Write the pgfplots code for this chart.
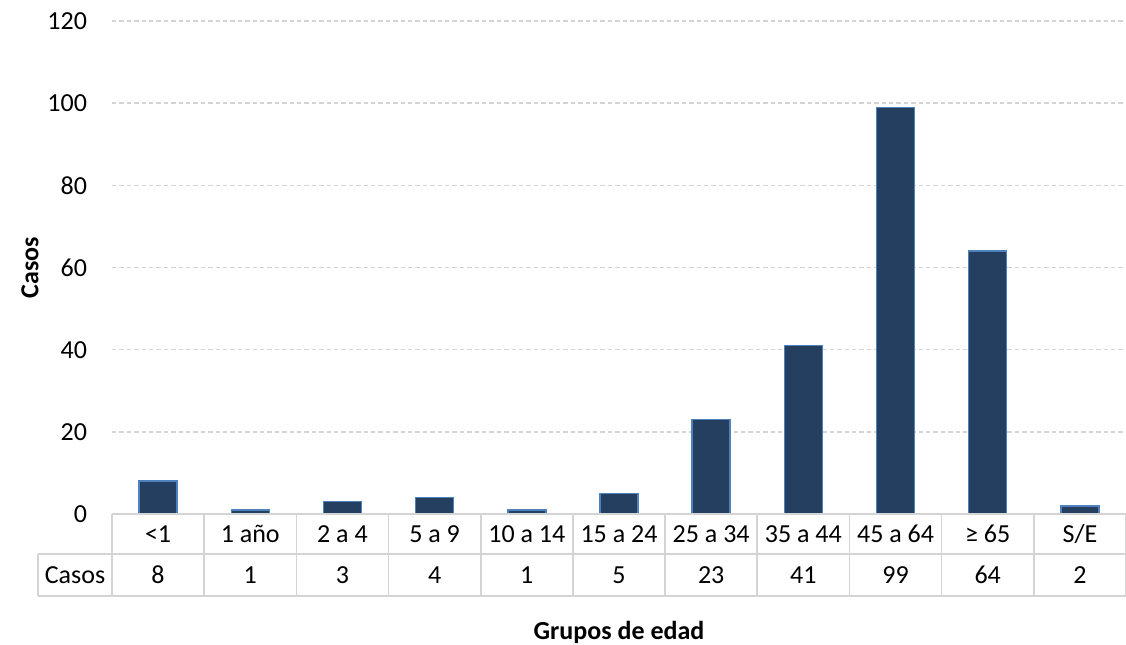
\documentclass[border=0pt]{standalone}
\usepackage{pgfplots}
\pgfplotsset{compat=1.18}
\usepackage{fontspec}
\setmainfont{Carlito}
\definecolor{barfill}{HTML}{253F60}
\definecolor{baredge}{HTML}{4F81BD}
\definecolor{gridc}{HTML}{D4D4D4}
\begin{document}
\fontsize{13pt}{15.6pt}\selectfont
\begin{tikzpicture}
\useasboundingbox (-56pt,-65pt) rectangle (507pt,257pt);
\begin{axis}[
  scale only axis, width=507pt, height=246.5pt,
  ybar, bar width=19pt,
  xmin=-0.5, xmax=10.5, ymin=0, ymax=120,
  ytick={0,20,...,120},
  xtick={0,...,10},
  xticklabels={<1,1 año,2 a 4,5 a 9,10 a 14,15 a 24,25 a 34,35 a 44,45 a 64,≥ 65,S/E},
  extra x ticks={0,...,10},
  extra x tick labels={8,1,3,4,1,5,23,41,99,64,2},
  extra x tick style={xticklabel style={yshift=-20.5pt}},
  xticklabel style={anchor=center, yshift=-10pt, text height=0.66em, text depth=0pt},
  yticklabel style={anchor=east, xshift=-8pt},
  major tick length=0pt,
  axis line style={draw=none},
  ymajorgrids=true,
  grid style={gridc, line width=0.75pt, dash pattern=on 2.2pt off 1.5pt},
  /pgf/number format/assume math mode=true,
  ylabel={\bfseries Casos},
  ylabel style={at={(axis description cs:-0.081,0.5)}, anchor=center},
  xlabel={\bfseries Grupos de edad},
  xlabel style={at={(axis description cs:0.5,0)}, anchor=center, yshift=-59pt},
  clip=false,
]
\addplot[fill=barfill, draw=baredge, line width=0.75pt] coordinates
{(0,8) (1,1) (2,3) (3,4) (4,1) (5,5) (6,23) (7,41) (8,99) (9,64) (10,2)};
% data table grid
\draw[gridc, line width=0.8pt] (axis cs:-0.5,0) -- (axis cs:10.5,0);
\draw[gridc, line width=0.8pt] (axis cs:-1.303,-9.74) -- (axis cs:10.5,-9.74);
\draw[gridc, line width=0.8pt] (axis cs:-1.303,-19.96) -- (axis cs:10.5,-19.96);
\draw[gridc, line width=0.8pt] (axis cs:-1.303,-9.74) -- (axis cs:-1.303,-19.96);
\pgfplotsinvokeforeach{-0.5,0.5,1.5,2.5,3.5,4.5,5.5,6.5,7.5,8.5,9.5,10.5}{
  \draw[gridc, line width=0.8pt] (axis cs:#1,0) -- (axis cs:#1,-19.96);
}
\node[anchor=center, text height=0.66em, text depth=0pt] at (axis cs:-0.901,-14.85) {Casos};
\end{axis}
\end{tikzpicture}
\end{document}
